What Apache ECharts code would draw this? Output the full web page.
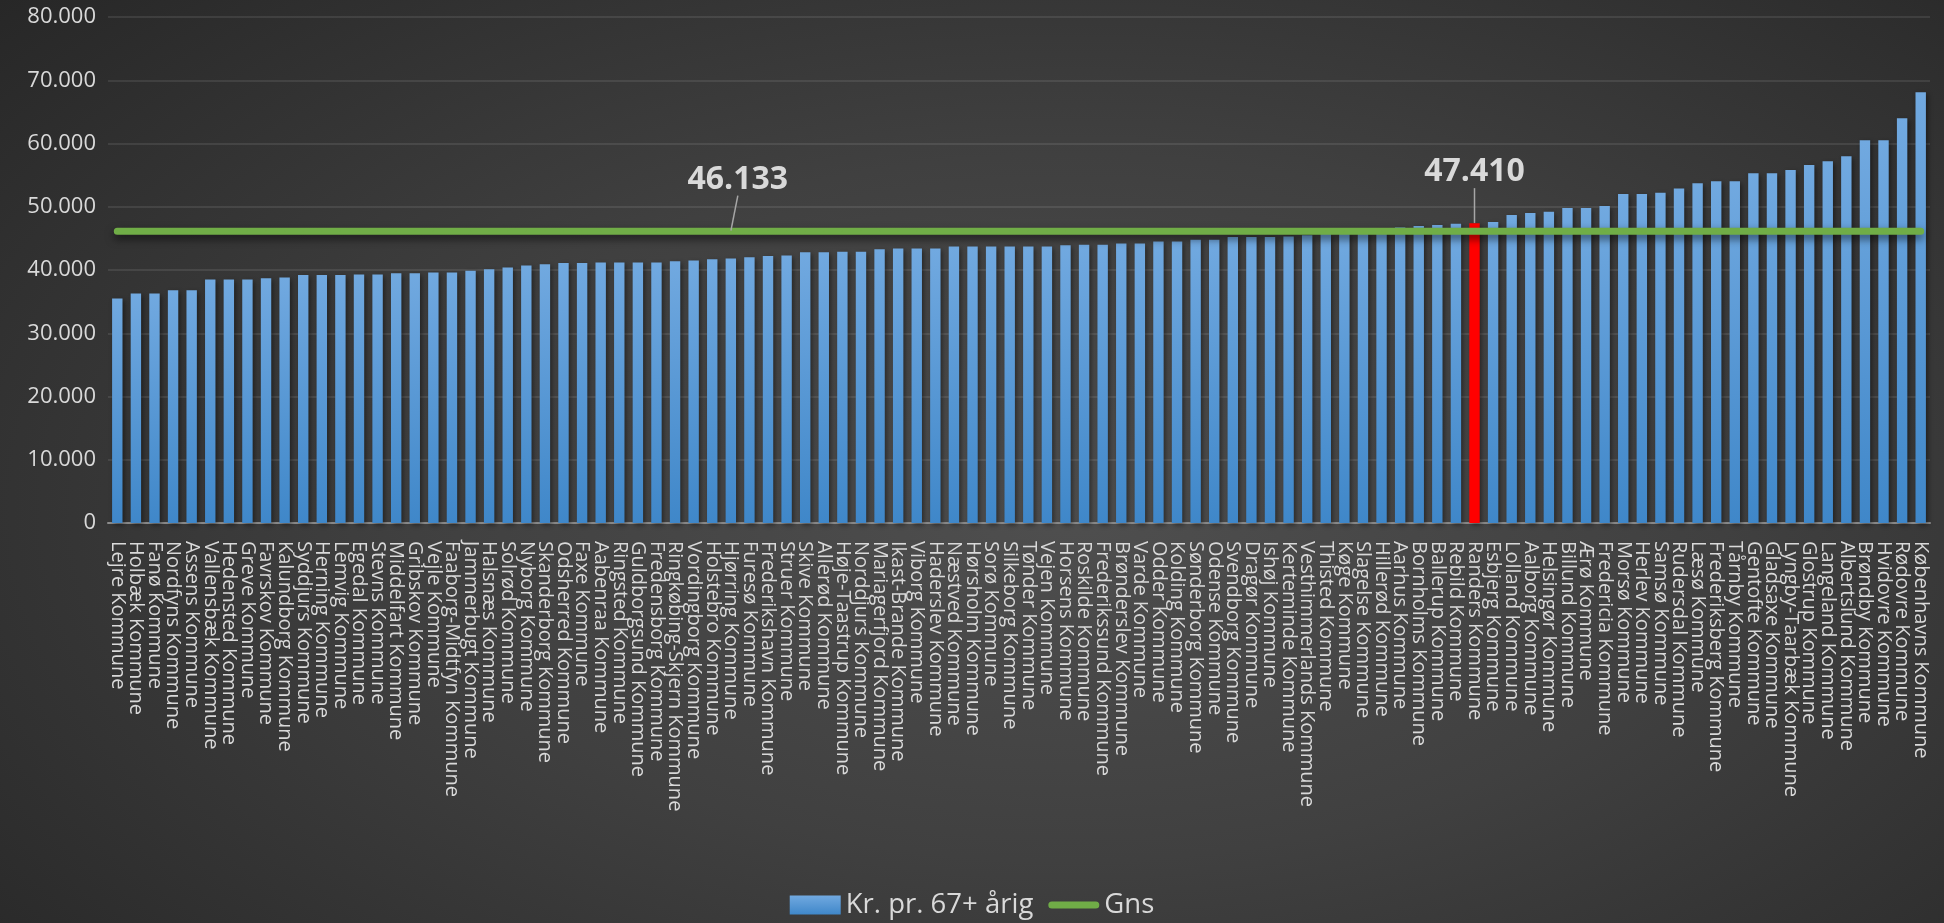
<!DOCTYPE html>
<html>
<head>
<meta charset="utf-8">
<script src="https://cdn.jsdelivr.net/npm/echarts@6/dist/echarts.min.js"></script>
<style>
  html, body { margin: 0; padding: 0; }
  body {
    width: 1944px; height: 923px; overflow: hidden;
    background: radial-gradient(ellipse 75% 85% at 55% 55%, #4f4f4f 0%, #404040 45%, #262626 100%);
  }
  #main { width: 1944px; height: 923px; }
</style>
</head>
<body>
<div id="main"></div>
<script>
// kommuner, sorteret efter kr. pr. 67+ årig
var kommuner = [
  'Lejre Kommune','Holbæk Kommune','Fanø Kommune','Nordfyns Kommune','Assens Kommune',
  'Vallensbæk Kommune','Hedensted Kommune','Greve Kommune','Favrskov Kommune','Kalundborg Kommune',
  'Syddjurs Kommune','Herning Kommune','Lemvig Kommune','Egedal Kommune','Stevns Kommune',
  'Middelfart Kommune','Gribskov Kommune','Vejle Kommune','Faaborg-Midtfyn Kommune','Jammerbugt Kommune',
  'Halsnæs Kommune','Solrød Kommune','Nyborg Kommune','Skanderborg Kommune','Odsherred Kommune',
  'Faxe Kommune','Aabenraa Kommune','Ringsted Kommune','Guldborgsund Kommune','Fredensborg Kommune',
  'Ringkøbing-Skjern Kommune','Vordingborg Kommune','Holstebro Kommune','Hjørring Kommune','Furesø Kommune',
  'Frederikshavn Kommune','Struer Kommune','Skive Kommune','Allerød Kommune','Høje-Taastrup Kommune',
  'Norddjurs Kommune','Mariagerfjord Kommune','Ikast-Brande Kommune','Viborg Kommune','Haderslev Kommune',
  'Næstved Kommune','Hørsholm Kommune','Sorø Kommune','Silkeborg Kommune','Tønder Kommune',
  'Vejen Kommune','Horsens Kommune','Roskilde Kommune','Frederikssund Kommune','Brønderslev Kommune',
  'Varde Kommune','Odder Kommune','Kolding Kommune','Sønderborg Kommune','Odense Kommune',
  'Svendborg Kommune','Dragør Kommune','Ishøj Kommune','Kerteminde Kommune','Vesthimmerlands Kommune',
  'Thisted Kommune','Køge Kommune','Slagelse Kommune','Hillerød Kommune','Aarhus Kommune',
  'Bornholms Kommune','Ballerup Kommune','Rebild Kommune','Randers Kommune','Esbjerg Kommune',
  'Lolland Kommune','Aalborg Kommune','Helsingør Kommune','Billund Kommune','Ærø Kommune',
  'Fredericia Kommune','Morsø Kommune','Herlev Kommune','Samsø Kommune','Rudersdal Kommune',
  'Læsø Kommune','Frederiksberg Kommune','Tårnby Kommune','Gentofte Kommune','Gladsaxe Kommune',
  'Lyngby-Taarbæk Kommune','Glostrup Kommune','Langeland Kommune','Albertslund Kommune','Brøndby Kommune',
  'Hvidovre Kommune','Rødovre Kommune','Københavns Kommune'
];

var krPr67 = [
  35500, 36300, 36300, 36800, 36800,
  38500, 38500, 38500, 38700, 38800,
  39200, 39200, 39200, 39300, 39300,
  39500, 39500, 39600, 39600, 39900,
  40100, 40400, 40700, 40900, 41100,
  41100, 41200, 41200, 41200, 41200,
  41400, 41500, 41700, 41800, 42000,
  42200, 42300, 42800, 42800, 42900,
  42900, 43300, 43400, 43400, 43400,
  43700, 43700, 43700, 43700, 43700,
  43700, 43900, 44000, 44000, 44200,
  44200, 44500, 44500, 44800, 44800,
  45200, 45200, 45200, 45300, 45500,
  45700, 45900, 46100, 46300, 46700,
  46950, 47100, 47300, 47410, 47600,
  48700, 49000, 49200, 49800, 49800,
  50100, 52000, 52000, 52200, 52900,
  53700, 54050, 54050, 55300, 55300,
  55800, 56600, 57200, 58000, 60500,
  60500, 64000, 68100
];

var gnsVaerdi = 46133;
var fremhaevet = 'Randers Kommune';
var gnsLabelKommune = 'Hjørring Kommune';

var yMin = 0, yMax = 80000, yStep = 10000;

var punktum = function (v) {
  return String(Math.round(v)).replace(/\B(?=(\d{3})+(?!\d))/g, '.');
};

var barData = krPr67.map(function (v, i) {
  if (kommuner[i] === fremhaevet) {
    return {
      value: v,
      itemStyle: { color: '#ff0000' },
      label: { show: true }
    };
  }
  return v;
});

var gnsData = kommuner.map(function (k) {
  if (k === gnsLabelKommune) {
    return { value: gnsVaerdi, label: { show: true } };
  }
  return gnsVaerdi;
});

var labelTekst = {
  show: false,
  position: 'top',
  color: '#d9d9d9',
  fontSize: 32,
  fontWeight: 'bold',
  fontFamily: 'Open Sans',
  formatter: function (p) { return punktum(p.value); }
};

var myChart = echarts.init(document.getElementById('main'));

var option = {
  backgroundColor: 'transparent',
  textStyle: { fontFamily: 'Open Sans' },
  animation: false,
  grid: { left: 108, right: 14, top: 17, bottom: 400 },
  legend: {
    top: 886,
    left: 'center',
    itemWidth: 51,
    itemHeight: 19,
    itemGap: 15,
    textStyle: { color: '#d9d9d9', fontSize: 27.5, fontFamily: 'Open Sans' },
    data: [
      { name: 'Kr. pr. 67+ årig', icon: 'rect' },
      { name: 'Gns', icon: 'path://M4,0 L53,0 A4,4 0 0 1 53,8 L4,8 A4,4 0 0 1 4,0 Z' }
    ]
  },
  xAxis: {
    type: 'category',
    data: kommuner,
    axisTick: { show: false },
    axisLine: { lineStyle: { color: '#8c8c8c', width: 2 } },
    axisLabel: {
      interval: 0,
      rotate: -90,
      margin: 18,
      color: '#d9d9d9',
      fontSize: 20,
      fontFamily: 'Open Sans'
    }
  },
  yAxis: {
    type: 'value',
    min: yMin,
    max: yMax,
    interval: yStep,
    axisLine: { show: false },
    axisTick: { show: false },
    splitLine: { lineStyle: { color: 'rgba(255,255,255,0.12)', width: 1.5 } },
    axisLabel: {
      color: '#d9d9d9',
      fontSize: 22,
      margin: 12,
      fontFamily: 'Open Sans',
      formatter: punktum
    }
  },
  series: [
    {
      name: 'Kr. pr. 67+ årig',
      type: 'bar',
      data: barData,
      barCategoryGap: '44%',
      itemStyle: {
        color: new echarts.graphic.LinearGradient(0, 0, 0, 1, [
          { offset: 0, color: '#71a9e0' },
          { offset: 1, color: '#3f87c9' }
        ]),
        shadowColor: 'rgba(0,0,0,0.45)',
        shadowBlur: 5,
        shadowOffsetX: 2,
        shadowOffsetY: 2
      },
      label: labelTekst,
      labelLayout: { dy: -30 },
      labelLine: { show: true, lineStyle: { color: '#a6a6a6', width: 1.5 } }
    },
    {
      name: 'Gns',
      type: 'line',
      data: gnsData,
      symbol: 'circle',
      symbolSize: 1,
      showSymbol: true,
      z: 5,
      lineStyle: {
        color: '#70ad47',
        width: 7,
        cap: 'round',
        shadowColor: 'rgba(0,0,0,0.6)',
        shadowBlur: 8,
        shadowOffsetY: 4
      },
      itemStyle: { color: '#70ad47' },
      label: labelTekst,
      labelLayout: { dx: 7, dy: -30 },
      labelLine: { show: true, lineStyle: { color: '#a6a6a6', width: 1.5 } }
    }
  ]
};

myChart.setOption(option);
</script>
</body>
</html>
